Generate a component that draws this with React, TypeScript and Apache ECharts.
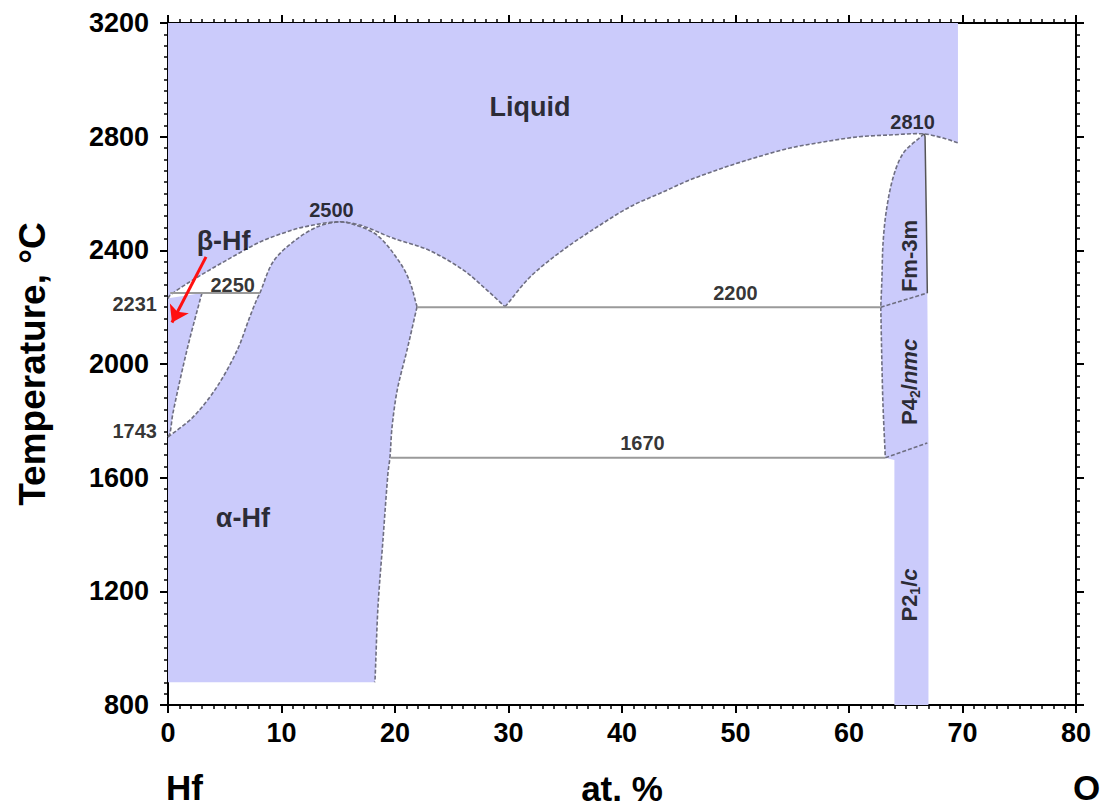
import React, { useEffect, useRef } from "react";
import * as echarts from "echarts";

type P = [number, number];

// ---- data ----
const xRange = { min: 0, max: 80, step: 10 };
const tRange = { min: 800, max: 3200, step: 400 };

// liquidus (at.% O, °C)
const liquidusLeft: P[] = [
  [0, 2231], [0.2, 2243], [2.2, 2296], [5.2, 2366], [8.1, 2429], [11.0, 2472], [12.8, 2489], [14.9, 2500],
  [16.9, 2489], [19.8, 2443], [23.0, 2400], [26.0, 2331], [28.1, 2260], [29.7, 2201],
];
const liquidusRight: P[] = [
  [29.7, 2201], [31.9, 2306], [34.8, 2401], [37.8, 2482], [40.7, 2553], [43.6, 2605], [46.0, 2648],
  [48.9, 2690], [51.9, 2728], [54.8, 2760], [57.7, 2781], [60.7, 2799], [63.6, 2806], [66.5, 2810],
  [68.3, 2795], [69.6, 2778],
];
const liquidEdge: P[] = [[69.6, 2778], [69.6, 3200], [0, 3200], [0, 2231]];

// alpha-Hf solid solution
const alphaLeft: P[] = [
  [0, 1743], [2.2, 1813], [4.3, 1919], [6.1, 2049], [7.2, 2165], [7.8, 2225], [8.1, 2250], [9.25, 2359],
  [11.0, 2429], [13.1, 2482], [14.9, 2500], [16.0, 2496], [18.4, 2454], [20.4, 2359], [21.3, 2290], [21.94, 2201],
];
const alphaRight: P[] = [
  [21.94, 2201], [21.06, 2049], [20.2, 1909], [19.74, 1778], [19.56, 1673], [19.38, 1616],
  [18.94, 1381], [18.5, 1145], [18.24, 888], [18.2, 880],
];
const alphaEdge: P[] = [[18.2, 880], [0, 880], [0, 1743]];

// beta-Hf solid solution
const betaTop: P[] = [[0, 2231], [3.0, 2250]];
const betaRight: P[] = [[3.0, 2250], [2.82, 2225], [1.67, 2049], [0.44, 1828], [0.18, 1757], [0, 1743]];
const betaEdge: P[] = [[0, 1743], [0, 2231]];

// HfO2 polymorph column
const cubicLeft: P[] = [
  [66.6, 2810], [66.3, 2799], [64.8, 2743], [63.9, 2658], [63.3, 2542], [63.0, 2426], [62.9, 2300], [62.8, 2200],
];
const tetragonalLeft: P[] = [[62.8, 2200], [62.9, 2000], [63.0, 1850], [63.2, 1670]];
const monoclinicEdge: P[] = [[63.2, 1670], [64.0, 1662], [64.0, 800], [67.0, 800], [67.0, 1723], [66.9, 2250]];
const cubicRight: P[] = [[66.9, 2250], [66.7, 2800], [66.6, 2810]];
const cubicToTetragonal: P[] = [[62.8, 2200], [66.9, 2250]];
const tetragonalToMonoclinic: P[] = [[63.2, 1670], [66.9, 1722]];

// invariant isotherms
const isoTemps = [2250, 2200, 1670];
const isoFrom = [0.2, 21.94, 19.6];
const isoTo = [8.1, 62.8, 63.2];

// extra temperature marks on the axis
const axisMarks = [2231, 1743];

// annotations
const annText = ["Liquid", "2810", "2500", "β-Hf", "2250", "2200", "1670", "α-Hf"];
const annPos: P[] = [[31.9, 2904], [65.6, 2852], [14.4, 2542], [4.9, 2433], [5.7, 2278], [50, 2250], [41.8, 1722], [6.6, 1458]];
const annKind = ["phase", "num", "num", "phase", "num", "num", "num", "phase"];
const rotText = ["{n|Fm-3m}", "{n|P4}{s|2}{n|/}{i|nmc}", "{n|P2}{s|1}{n|/}{i|c}"];
const rotPos: P[] = [[65.3, 2380], [65.3, 1937], [65.3, 1187]];
const arrowCoords: P[] = [[3.35, 2377], [0.35, 2146]];

const FONT = "'Liberation Sans', Arial, Helvetica, sans-serif";
const FILL = "#cbcbfb";
const EDGE = "#6e6e80";
const SMOOTH = 0.33;

// split a straight multi-point edge into 2-point pieces (sharp corners)
const corners = (pts: P[]): P[][] => pts.slice(1).map((p, i) => [pts[i], p]);

export default function App() {
  const ref = useRef<HTMLDivElement>(null);
  useEffect(() => {
    if (!ref.current) return;
    const chart = echarts.init(ref.current, null, { renderer: "svg" });

    // a region is a loop of pieces; shared endpoints become sharp corners
    const liquidRegion: P[][] = [liquidusLeft, liquidusRight, ...corners(liquidEdge)];
    const alphaRegion: P[][] = [alphaLeft, alphaRight, ...corners(alphaEdge)];
    const betaRegion: P[][] = [betaTop, betaRight, betaEdge];
    const oxideRegion: P[][] = [cubicLeft, tetragonalLeft, ...corners(monoclinicEdge), cubicRight];

    const region = (pieces: P[][]) => ({
      type: "custom",
      coordinateSystem: "cartesian2d",
      silent: true,
      z: 1,
      data: [[0, 800]],
      renderItem: (_p: any, api: any) => ({
        type: "polygon",
        shape: { points: pieces.flat().map((p) => api.coord(p)), smooth: SMOOTH },
        style: { fill: FILL, stroke: "none" },
      }),
    });
    const curve = (pts: P[], dashed = true, color = EDGE, width = 1.6) => ({
      type: "custom",
      coordinateSystem: "cartesian2d",
      silent: true,
      z: 3,
      data: [[0, 800]],
      renderItem: (_p: any, api: any) => {
        const dup = [pts[0], ...pts, pts[pts.length - 1]];
        return {
          type: "polyline",
          shape: { points: dup.map((p) => api.coord(p)), smooth: SMOOTH },
          style: { fill: "none", stroke: color, lineWidth: width, lineDash: dashed ? [4, 2] : null },
        };
      },
    });

    const axisLabelStyle = { color: "#000", fontSize: 27, fontWeight: "bold", fontFamily: FONT };
    const nameStyle = { color: "#000", fontSize: 35, fontWeight: "bold", fontFamily: FONT };
    const common = {
      type: "value",
      axisLine: { show: true, onZero: false, lineStyle: { color: "#000", width: 2 } },
      axisTick: { show: true, length: 8, lineStyle: { color: "#000", width: 2 } },
      minorTick: { show: true, splitNumber: 10, length: 4, lineStyle: { color: "#000", width: 1.5 } },
      splitLine: { show: false },
      minorSplitLine: { show: false },
    };
    const mkX = (pos: "bottom" | "top") => ({
      ...common,
      position: pos,
      min: xRange.min,
      max: xRange.max,
      interval: xRange.step,
      axisLabel: { ...axisLabelStyle, show: pos === "bottom", margin: 14 },
      name: pos === "bottom" ? "at. %" : "",
      nameLocation: "middle",
      nameGap: 66,
      nameTextStyle: nameStyle,
    });
    const mkY = (pos: "left" | "right") => ({
      ...common,
      position: pos,
      min: tRange.min,
      max: tRange.max,
      interval: tRange.step,
      axisLabel: { ...axisLabelStyle, show: pos === "left", margin: 19, formatter: (v: number) => String(v) },
      name: pos === "left" ? "Temperature, °C" : "",
      nameLocation: "middle",
      nameGap: 117,
      nameTextStyle: { ...nameStyle, fontSize: 37 },
    });

    const series: any[] = [
      region(liquidRegion),
      region(alphaRegion),
      region(betaRegion),
      region(oxideRegion),
      curve(liquidusLeft),
      curve(liquidusRight),
      curve(alphaLeft),
      curve(alphaRight),
      curve(betaRight),
      curve(cubicLeft),
      curve(tetragonalLeft),
      curve(cubicRight, false, "#555", 1.5),
      curve(cubicToTetragonal),
      curve(tetragonalToMonoclinic),
      ...isoTemps.map((t, i) => ({
        type: "line",
        data: [[isoFrom[i], t], [isoTo[i], t]],
        symbol: "none",
        silent: true,
        z: 3,
        lineStyle: { color: "#9a9a9a", width: 2 },
      })),
      {
        type: "lines",
        coordinateSystem: "cartesian2d",
        silent: true,
        z: 10,
        symbol: ["none", "arrow"],
        symbolSize: 16,
        lineStyle: { color: "#ff1010", width: 3, opacity: 1, curveness: 0 },
        data: [{ coords: arrowCoords }],
      },
      {
        type: "scatter",
        symbolSize: 0,
        silent: true,
        clip: false,
        z: 12,
        data: annText.map((t, i) => ({
          value: annPos[i],
          label: {
            show: true,
            position: "inside",
            formatter: t,
            color: "#000",
            fontFamily: FONT,
            fontWeight: "bold",
            fontSize: annKind[i] === "phase" ? 27 : 20,
          },
        })),
      },
      {
        type: "scatter",
        symbolSize: 0,
        silent: true,
        clip: false,
        z: 12,
        data: rotText.map((t, i) => ({
          value: rotPos[i],
          label: {
            show: true,
            position: "inside",
            rotate: 90,
            formatter: t,
            rich: {
              n: { fontSize: 22, fontWeight: "bold", fontFamily: FONT, color: "#000", lineHeight: 26 },
              i: { fontSize: 22, fontWeight: "bold", fontStyle: "italic", fontFamily: FONT, color: "#000", lineHeight: 26 },
              s: { fontSize: 14, fontWeight: "bold", fontFamily: FONT, color: "#000", lineHeight: 26, verticalAlign: "bottom" },
            },
          },
        })),
      },
      {
        type: "scatter",
        symbolSize: 0,
        silent: true,
        clip: false,
        z: 12,
        data: axisMarks.map((t, i) => ({
          value: [0, t],
          label: {
            show: true,
            position: "left",
            distance: 11,
            offset: [0, i === 0 ? 6 : -6],
            formatter: String(t),
            color: "#000",
            fontFamily: FONT,
            fontWeight: "bold",
            fontSize: 20,
          },
        })),
      },
    ];

    chart.setOption({
      animation: false,
      backgroundColor: "#fff",
      grid: { left: 168, right: 26, top: 23, bottom: 102, containLabel: false, outerBoundsMode: "none" },
      xAxis: [mkX("bottom"), mkX("top")],
      yAxis: [mkY("left"), mkY("right")],
      graphic: [
        { type: "text", left: 166, top: 770, style: { text: "Hf", ...nameStyle, fill: "#000" } },
        { type: "text", left: 1073, top: 770, style: { text: "O", ...nameStyle, fill: "#000" } },
      ],
      series,
    });
    return () => chart.dispose();
  }, []);
  return (
    <div
      ref={ref}
      style={{ position: "fixed", left: 0, top: 0, width: 1102, height: 807, background: "#fff" }}
    />
  );
}
